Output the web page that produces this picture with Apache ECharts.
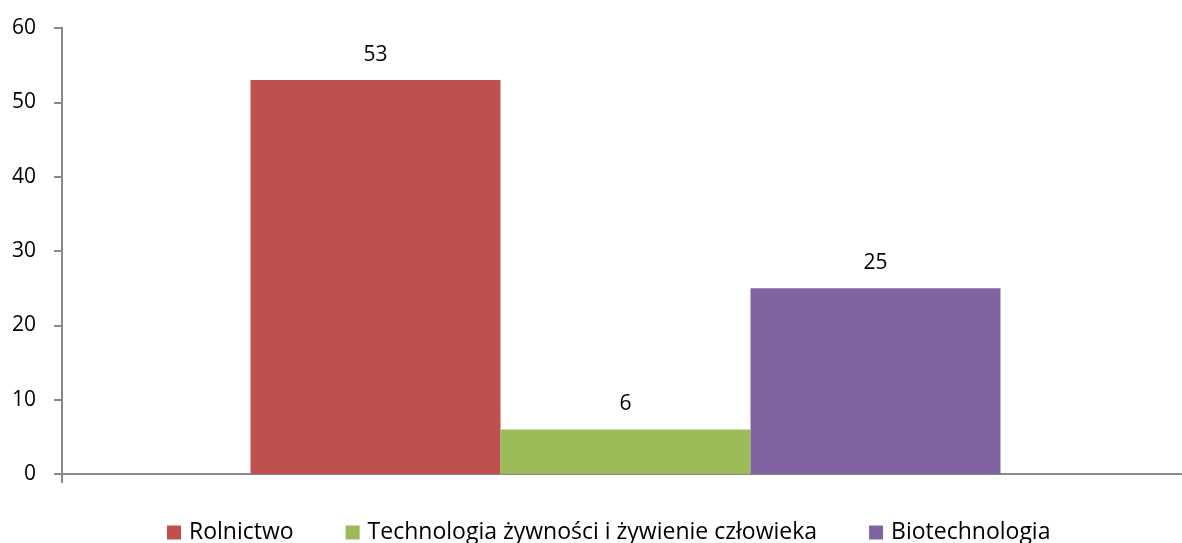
<!DOCTYPE html>
<html>
<head>
<meta charset="utf-8">
<script src="https://cdn.jsdelivr.net/npm/echarts@6/dist/echarts.min.js"></script>
<style>html,body{margin:0;padding:0;background:#fff}#c{width:1182px;height:543px}</style>
</head>
<body>
<div id="c"></div>
<script>
var categories = [''];
var seriesNames = ['Rolnictwo', 'Technologia żywności i żywienie człowieka', 'Biotechnologia'];
var rolnictwo = [53];
var technologia = [6];
var biotechnologia = [25];
var yTicks = [0, 10, 20, 30, 40, 50, 60];

var colors = ['#C0504D', '#9BBB59', '#8064A2'];
var values = [rolnictwo, technologia, biotechnologia];
var font = '"Open Sans", sans-serif';

var chart = echarts.init(document.getElementById('c'));
chart.setOption({
  animation: false,
  grid: { left: 62, width: 1127, top: 28, bottom: 69, containLabel: false, outerBoundsMode: 'none' },
  legend: {
    top: 516, left: 162,
    itemWidth: 14, itemHeight: 14, itemGap: 52,
    icon: 'rect',
    textStyle: { fontFamily: font, fontSize: 23, color: '#000', padding: [0, 0, 0, 3] },
    data: seriesNames
  },
  xAxis: {
    type: 'category', data: categories,
    axisLine: { lineStyle: { color: '#898989', width: 2 } },
    axisTick: { show: true, length: 9, interval: function (i) { return i === 0; }, lineStyle: { color: '#898989', width: 2 } },
    axisLabel: { show: false }
  },
  yAxis: {
    type: 'value', min: yTicks[0], max: yTicks[yTicks.length - 1], interval: 10,
    axisLine: { show: true, lineStyle: { color: '#898989', width: 2 } },
    axisTick: { show: true, length: 8, lineStyle: { color: '#898989', width: 2 } },
    splitLine: { show: false },
    axisLabel: { margin: 26, fontFamily: font, fontSize: 21, color: '#000' }
  },
  series: seriesNames.map(function (n, i) {
    return {
      name: n, type: 'bar', data: values[i],
      barGap: '0%', barWidth: 250,
      itemStyle: { color: colors[i] },
      label: { show: true, position: 'top', distance: 15, fontFamily: font, fontSize: 21, color: '#000' }
    };
  })
});
</script>
</body>
</html>
